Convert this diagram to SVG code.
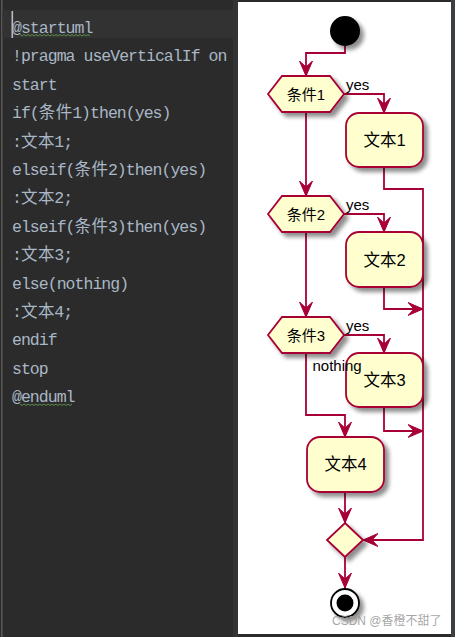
<svg xmlns="http://www.w3.org/2000/svg" width="455" height="637" viewBox="0 0 455 637">
<style>
.code{font-family:"Liberation Mono","Noto Sans CJK SC",monospace;font-size:16.5px;fill:#A9B7C6;letter-spacing:-0.97px}
.cjk{letter-spacing:0.5px}
.node{fill:#FEFECE;stroke:#A80036;stroke-width:1.8}
.lbl{font-family:"Liberation Sans","Noto Sans CJK SC",sans-serif;font-size:15px;fill:#000}
.btxt{font-family:"Liberation Sans","Noto Sans CJK SC",sans-serif;font-size:16.5px;fill:#000;text-anchor:middle}
.htxt{font-family:"Liberation Sans","Noto Sans CJK SC",sans-serif;font-size:15px;fill:#000;text-anchor:middle}
.edge{fill:none;stroke:#A80036;stroke-width:1.8;marker-end:url(#arr)}
.squig{fill:none;stroke:#5E8C4A;stroke-width:1}
</style>
<defs>
<marker id="arr" viewBox="-15 -7 16 14" refX="0" refY="0" markerWidth="16" markerHeight="14" markerUnits="userSpaceOnUse" orient="auto">
<path d="M0,0 L-15,-6.5 L-9,0 L-15,6.5 Z" fill="#A80036" stroke="#A80036" stroke-width="1"/>
</marker>
<filter id="sh" x="-20%" y="-20%" width="150%" height="150%">
<feGaussianBlur in="SourceAlpha" stdDeviation="2"/>
<feOffset dx="3.5" dy="3.5" result="b"/>
<feComponentTransfer><feFuncA type="linear" slope="0.45"/></feComponentTransfer>
<feMerge><feMergeNode/><feMergeNode in="SourceGraphic"/></feMerge>
</filter>
</defs>

<!-- editor panel -->
<rect x="0" y="0" width="455" height="637" fill="#2B2B2B"/>
<rect x="1" y="0" width="1.6" height="637" fill="#555555"/>
<rect x="2.6" y="10" width="230.4" height="28" fill="#323232"/>
<rect x="233" y="0" width="5" height="637" fill="#313335"/>
<rect x="11.5" y="11" width="1.6" height="27" fill="#BBBBBB"/>

<g id="code">
<text class="code" x="12" y="33">@startuml</text>
<text class="code" x="12" y="61.4">!pragma useVerticalIf on</text>
<text class="code" x="12" y="89.8">start</text>
<text class="code" y="118.2"><tspan x="12">if(</tspan><tspan class="cjk" x="38.8">条件</tspan><tspan x="72.2">1)then(yes)</tspan></text>
<text class="code" y="146.6"><tspan x="12">:</tspan><tspan class="cjk" x="20.9">文本</tspan><tspan x="54.3">1;</tspan></text>
<text class="code" y="175"><tspan x="12">elseif(</tspan><tspan class="cjk" x="74.5">条件</tspan><tspan x="107.9">2)then(yes)</tspan></text>
<text class="code" y="203.4"><tspan x="12">:</tspan><tspan class="cjk" x="20.9">文本</tspan><tspan x="54.3">2;</tspan></text>
<text class="code" y="231.8"><tspan x="12">elseif(</tspan><tspan class="cjk" x="74.5">条件</tspan><tspan x="107.9">3)then(yes)</tspan></text>
<text class="code" y="260.2"><tspan x="12">:</tspan><tspan class="cjk" x="20.9">文本</tspan><tspan x="54.3">3;</tspan></text>
<text class="code" x="12" y="288.6">else(nothing)</text>
<text class="code" y="317"><tspan x="12">:</tspan><tspan class="cjk" x="20.9">文本</tspan><tspan x="54.3">4;</tspan></text>
<text class="code" x="12" y="345.4">endif</text>
<text class="code" x="12" y="373.8">stop</text>
<text class="code" x="12" y="402.2">@enduml</text>
<path class="squig" d="M20,34.5 l2,1.5 l2,-1.5 l2,1.5 l2,-1.5 l2,1.5 l2,-1.5 l2,1.5 l2,-1.5 l2,1.5 l2,-1.5 l2,1.5 l2,-1.5 l2,1.5 l2,-1.5 l2,1.5 l2,-1.5 l2,1.5 l2,-1.5 l2,1.5 l2,-1.5 l2,1.5 l2,-1.5 l2,1.5 l2,-1.5 l2,1.5 l2,-1.5 l2,1.5 l2,-1.5 l2,1.5 l2,-1.5 l2,1.5 l2,-1.5 l2,1.5 l2,-1.5 l2,1.5"/>
<path class="squig" d="M20,404 l2,1.5 l2,-1.5 l2,1.5 l2,-1.5 l2,1.5 l2,-1.5 l2,1.5 l2,-1.5 l2,1.5 l2,-1.5 l2,1.5 l2,-1.5 l2,1.5 l2,-1.5 l2,1.5 l2,-1.5 l2,1.5 l2,-1.5 l2,1.5 l2,-1.5 l2,1.5 l2,-1.5 l2,1.5 l2,-1.5 l2,1.5 l2,-1.5"/>
</g>

<!-- diagram panel -->
<rect x="238" y="2" width="213" height="632" fill="#FFFFFF"/>
<rect x="451" y="0" width="4" height="637" fill="#3C3F41"/>

<g id="connectors">
<path class="edge" d="M345,46 V53 H306 V76"/>
<path class="edge" d="M344,94 H384 V113"/>
<path class="edge" d="M306,112 V196"/>
<path class="edge" d="M384,167 V189 H423 V540 H363"/>
<path class="edge" d="M344,214 H384 V232"/>
<path class="edge" d="M306,232 V317"/>
<path class="edge" d="M384,287 V309 H423"/>
<path class="edge" d="M344,335 H384 V353"/>
<path class="edge" d="M384,407 V431 H423"/>
<path class="edge" d="M306,353 V415 H345 V437"/>
<path class="edge" d="M345,492 V523"/>
<path class="edge" d="M345,557 V588"/>
</g>

<g id="start"><circle cx="345" cy="31" r="15" fill="#000" filter="url(#sh)"/></g>

<g id="cond1">
<polygon class="node" filter="url(#sh)" points="268,94 282,76 330,76 344,94 330,112 282,112"/>
<text class="htxt" x="306" y="100">条件1</text>
<text class="lbl" x="346" y="90">yes</text>
</g>
<g id="text1">
<rect class="node" filter="url(#sh)" x="346" y="113" width="77" height="54" rx="13"/>
<text class="btxt" x="384.5" y="146">文本1</text>
</g>

<g id="cond2">
<polygon class="node" filter="url(#sh)" points="268,214 282,196 330,196 344,214 330,232 282,232"/>
<text class="htxt" x="306" y="220">条件2</text>
<text class="lbl" x="346" y="210">yes</text>
</g>
<g id="text2">
<rect class="node" filter="url(#sh)" x="346" y="232" width="77" height="55" rx="13"/>
<text class="btxt" x="384.5" y="266">文本2</text>
</g>

<g id="cond3">
<polygon class="node" filter="url(#sh)" points="268,335 282,317 330,317 344,335 330,353 282,353"/>
<text class="htxt" x="306" y="341">条件3</text>
<text class="lbl" x="346" y="331">yes</text>
</g>
<g id="text3">
<rect class="node" filter="url(#sh)" x="346" y="353" width="77" height="54" rx="13"/>
<text class="btxt" x="384.5" y="386">文本3</text>
</g>
<g id="nothing-label"><text class="lbl" x="312.5" y="371">nothing</text></g>

<g id="text4">
<rect class="node" filter="url(#sh)" x="307" y="437" width="77" height="55" rx="13"/>
<text class="btxt" x="345.5" y="470">文本4</text>
</g>

<g id="merge">
<polygon class="node" filter="url(#sh)" points="345,523 363,540 345,557 327,540"/>
</g>

<g id="stop">
<circle cx="345" cy="603" r="14" fill="#FFFFFF" stroke="#000" stroke-width="1.8" filter="url(#sh)"/>
<circle cx="345" cy="603" r="8.5" fill="#000"/>
</g>

<text x="332" y="625" font-family="Liberation Sans, Noto Sans CJK SC, sans-serif" font-size="12" fill="#9A9A9A" fill-opacity="0.9">CSDN @香橙不甜了</text>
</svg>
